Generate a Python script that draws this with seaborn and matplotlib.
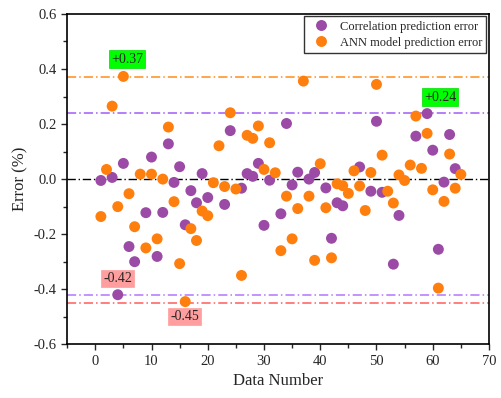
import numpy as np
import pandas as pd
import matplotlib
matplotlib.use("Agg")
import matplotlib.pyplot as plt
from matplotlib.ticker import MultipleLocator
import seaborn as sns

# ---- data ----
ann_x = list(range(1, 66))
ann_err = [-0.136, 0.035, 0.265, -0.10, 0.373, -0.053, -0.173, 0.018, -0.25, 0.018,
           -0.217, 0.0, 0.189, -0.082, -0.307, -0.445, -0.18, -0.223, -0.116, -0.133,
           -0.013, 0.121, -0.027, 0.241, -0.036, -0.35, 0.159, 0.148, 0.193, 0.035,
           0.132, 0.023, -0.26, -0.062, -0.217, -0.107, 0.356, -0.062, -0.295, 0.056,
           -0.104, -0.286, -0.017, -0.024, -0.052, 0.03, -0.025, -0.114, 0.024, 0.344,
           0.087, -0.044, -0.087, 0.015, -0.005, 0.051, 0.229, 0.039, 0.166, -0.039,
           -0.396, -0.081, 0.091, -0.033, 0.017]

corr_x = [1, 3, 4, 5, 6, 7, 9, 10, 11, 12, 13, 14, 15, 16, 17, 18, 19, 20, 23, 24,
          26, 27, 28, 29, 30, 31, 33, 34, 35, 36, 38, 39, 41, 42, 43, 44, 47, 49, 50, 51,
          53, 54, 57, 59, 60, 61, 62, 63, 64]
corr_err = [-0.005, 0.006, -0.42, 0.057, -0.245, -0.30, -0.122, 0.08, -0.281, -0.121,
            0.128, -0.012, 0.045, -0.166, -0.042, -0.086, 0.02, -0.067, -0.092, 0.176,
            -0.033, 0.02, 0.01, 0.057, -0.168, -0.004, -0.126, 0.202, -0.021, 0.025,
            0.0, 0.024, -0.032, -0.215, -0.086, -0.097, 0.044, -0.044, 0.21, -0.048,
            -0.309, -0.132, 0.156, 0.238, 0.105, -0.255, -0.011, 0.162, 0.038]

series_names = ["Correlation prediction error", "ANN model prediction error"]
ref_values = [0.37, 0.24, -0.42, -0.45]
ref_labels = ["+0.37", "+0.24", "-0.42", "-0.45"]
x_ticks = [0, 10, 20, 30, 40, 50, 60, 70]
y_ticks = [-0.6, -0.4, -0.2, 0.0, 0.2, 0.4, 0.6]

df = pd.concat([
    pd.DataFrame({"x": corr_x, "err": corr_err, "series": series_names[0]}),
    pd.DataFrame({"x": ann_x, "err": ann_err, "series": series_names[1]}),
], ignore_index=True)

sns.set_style("ticks")
plt.rcParams["font.family"] = ["Liberation Serif", "DejaVu Serif"]

fig = plt.figure(figsize=(5.01, 3.98), dpi=100)
ax = fig.add_axes([0.134, 0.135, 0.842, 0.830])

# reference lines
dd = (0, (6, 2, 1, 2))
ax.axhline(0, color="black", lw=1.0, ls=dd, zorder=1)
ax.axhline(ref_values[0], color="#FF8C1A", lw=1.1, ls=dd, zorder=1)
ax.axhline(ref_values[1], color="#A25BF5", lw=1.1, ls=dd, zorder=1)
ax.axhline(ref_values[2], color="#B277FF", lw=1.1, ls=dd, zorder=1)
ax.axhline(ref_values[3], color="#FF5C5C", lw=1.1, ls=dd, zorder=1)

sns.scatterplot(data=df, x="x", y="err", hue="series",
                palette=["#9B4AA5", "#FF7F0E"], s=62, linewidth=0,
                ax=ax, zorder=3)

# annotations
green = dict(boxstyle="square,pad=0.15", fc="#00FF00", ec="#00DD00", lw=0.5)
pink = dict(boxstyle="square,pad=0.15", fc="#FF9E9E", ec="#FF9E9E", lw=0.5)
ax.text(5.6, 0.436, ref_labels[0], ha="center", va="center", fontsize=10, bbox=green)
ax.text(61.3, 0.298, ref_labels[1], ha="center", va="center", fontsize=10, bbox=green)
ax.text(4.0, -0.36, ref_labels[2], ha="center", va="center", fontsize=10, bbox=pink)
ax.text(15.9, -0.50, ref_labels[3], ha="center", va="center", fontsize=10, bbox=pink)

ax.set_xlim(-5, 70)
ax.set_ylim(-0.6, 0.6)
ax.set_xticks(x_ticks)
ax.set_yticks(y_ticks)
ax.set_yticklabels([f"{v:.1f}" for v in y_ticks])
ax.xaxis.set_minor_locator(MultipleLocator(5))
ax.yaxis.set_minor_locator(MultipleLocator(0.1))
ax.tick_params(which="both", direction="out", length=4, width=1, labelsize=10.5)
ax.tick_params(which="minor", length=3)
for sp in ax.spines.values():
    sp.set_visible(True)
    sp.set_linewidth(1.2)
    sp.set_color("black")

ax.set_xlabel("Data Number", fontsize=12)
ax.set_ylabel("Error (%)", fontsize=12)

leg = ax.legend(loc="upper right", fontsize=9, frameon=True, fancybox=False,
                edgecolor="black", borderpad=0.35, handletextpad=0.5,
                labelspacing=0.3, markerscale=1.0, borderaxespad=0.2)
leg.get_frame().set_linewidth(1.0)
leg.set_title(None)

fig.savefig("out.png", dpi=100)
